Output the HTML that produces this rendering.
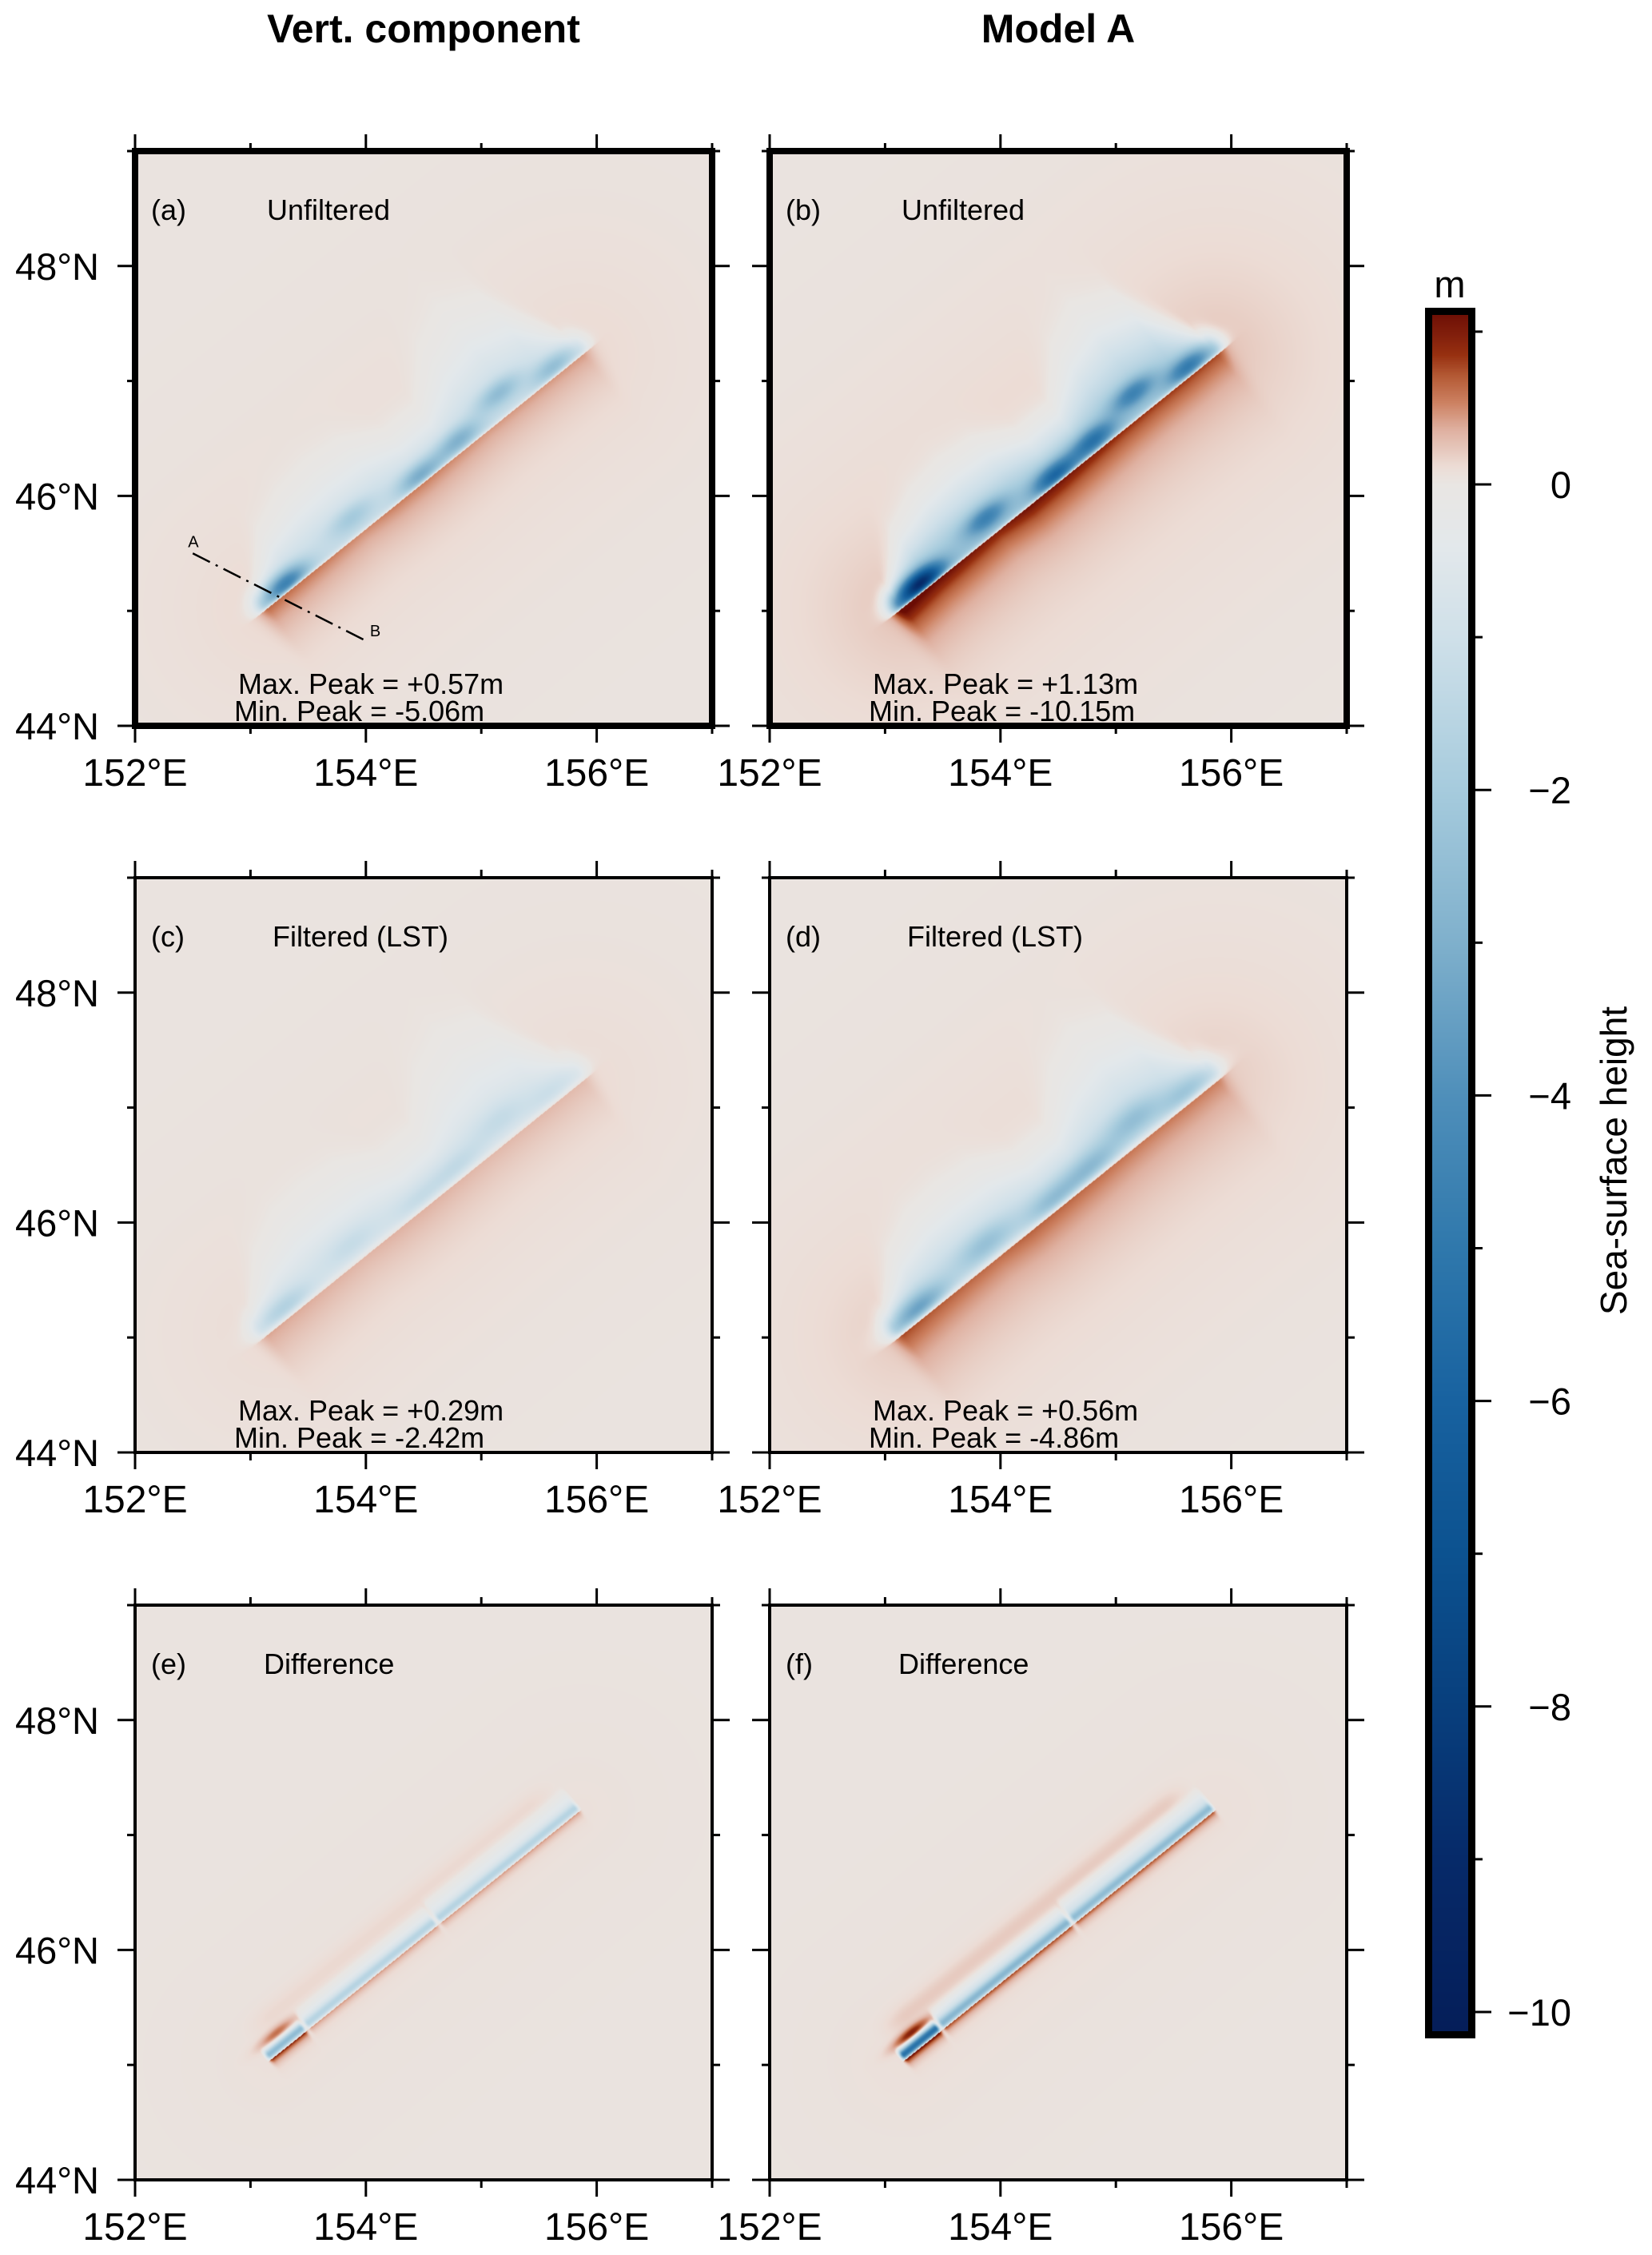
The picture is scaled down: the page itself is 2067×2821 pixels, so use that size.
<!DOCTYPE html>
<html><head><meta charset="utf-8">
<style>
html,body{margin:0;padding:0;background:#fff;}
#wrap{position:relative;width:2067px;height:2821px;overflow:hidden;background:#fff;font-family:"Liberation Sans",sans-serif;}
canvas{position:absolute;}
svg{position:absolute;left:0;top:0;}
</style></head>
<body>
<div id="wrap">
<canvas id="cv-a" width="722" height="719" style="left:169px;top:189px"></canvas>
<canvas id="cv-b" width="722" height="719" style="left:963px;top:189px"></canvas>
<canvas id="cv-c" width="722" height="719" style="left:169px;top:1098px"></canvas>
<canvas id="cv-d" width="722" height="719" style="left:963px;top:1098px"></canvas>
<canvas id="cv-e" width="722" height="719" style="left:169px;top:2008px"></canvas>
<canvas id="cv-f" width="722" height="719" style="left:963px;top:2008px"></canvas>
<canvas id="cv-cb" width="45" height="2147" style="left:1792px;top:394px"></canvas>
<svg id="ov" width="2067" height="2821">
<text x="530" y="53" font-size="50" font-weight="bold" text-anchor="middle" font-family="Liberation Sans, sans-serif">Vert. component</text>
<text x="1324" y="53" font-size="50" font-weight="bold" text-anchor="middle" font-family="Liberation Sans, sans-serif">Model A</text>
<text x="1814" y="372" font-size="47" text-anchor="middle" font-family="Liberation Sans, sans-serif">m</text>
<text transform="translate(2035,1452) rotate(-90)" font-size="46" text-anchor="middle" font-family="Liberation Sans, sans-serif">Sea-surface height</text>
</svg>
</div>
<script>
// ---- data ----
const lonTicks=[152,153,154,155,156,157];
const latTicks=[44,45,46,47,48,49];
const lonLabels=['152°E','','154°E','','156°E',''];
const latLabels=['44°N','','46°N','','48°N',''];
const cbTickVals=[1,0,-1,-2,-3,-4,-5,-6,-7,-8,-9,-10];
const cbTickLabels=['','0','','−2','','−4','','−6','','−8','','−10'];
const panelIds=['a','b','c','d','e','f'];
const panelTitles=['Unfiltered','Unfiltered','Filtered (LST)','Filtered (LST)','Difference','Difference'];
const maxPeaks=['+0.57m','+1.13m','+0.29m','+0.56m','',''];
const minPeaks=['-5.06m','-10.15m','-2.42m','-4.86m','',''];
const faultLon=[153.16,155.87];
const faultLat=[45.03,47.22];
const profileLon=[152.5,153.98];
const profileLat=[45.5,44.75];
const sNodes=[0,0.1,0.2,0.3,0.4,0.5,0.6,0.7,0.8,0.9,1];
const bandA=[1.6,1.5,1.35,1.3,1.3,1.3,1.35,1.3,1.3,1.2,1.0];
const bandB=[3.4,2.9,2.6,2.5,2.5,2.6,2.7,2.5,2.4,2.3,2.0];
const bandC=[1.1,1.05,1.0,0.95,0.95,0.95,1.0,0.95,0.95,0.9,0.8];
const bandD=[2.1,1.9,1.7,1.6,1.6,1.7,1.8,1.6,1.6,1.5,1.3];
const widthU=[0.14,0.36,0.45,0.48,0.46,0.36,0.36,0.56,0.65,0.58,0.18];
const widthF=[0.18,0.4,0.5,0.52,0.5,0.4,0.4,0.6,0.68,0.62,0.22];
const redA=[0.5,0.45,0.4,0.35,0.4,0.4,0.35,0.3,0.3,0.3,0.3];
const redB=[1.1,0.9,0.8,0.7,0.85,0.8,0.7,0.6,0.55,0.55,0.5];
const redC=[0.27,0.25,0.22,0.2,0.22,0.22,0.2,0.18,0.18,0.18,0.17];
const redD=[0.55,0.48,0.43,0.4,0.45,0.43,0.4,0.36,0.34,0.34,0.32];
const blobS=[0.07,0.3,0.5,0.63,0.78,0.93];
const blobD=[0.07,0.16,0.07,0.1,0.2,0.08];
const blobA=[3.3,1.0,2.0,1.8,1.5,1.5];
const blobB=[6.5,2.6,3.6,3.0,2.6,3.0];
const blobC=[1.1,0.5,0.6,0.6,0.5,0.5];
const blobDD=[2.4,1.2,1.5,1.4,1.2,1.3];
const haloAmp=[0.12,0.25,0.1,0.2,0.04,0.05];
const segS0=[0,0.125,0.545];
const segS1=[0.125,0.545,1];
const stripE=[2.2,1.1,1.1];
const stripF=[4.5,1.9,1.8];
const blockE=[0.5,0.6,0.6];
const blockF=[1.0,1.0,0.9];
const blockW=[0.1,0.17,0.2];
const segRedE=[0.95,0.4,0.4];
const segRedF=[1.15,0.75,0.7];
const cmapVals=[-10.2,-9,-8,-7,-6,-5,-4,-3,-2,-1,-0.4,0,0.12,0.36,0.54,0.71,0.85,0.97,1.15];
const cmapCols=['#051d58','#062a69','#083f7d','#0c5290','#1862a0','#2f78ac','#4f8fba','#7fb0cc','#a6cbdd','#cfe0e9','#e3e8eb','#e9e6e3','#ecdcd5','#dfb0a0','#cc8060','#b45a35','#973010','#83200c','#6a0c04'];

// ---- geometry ----
const colX=[169,963], rowY=[189,1098,2008], PW=722, PH=719;
const DEGX=144.4, DEGY=143.8;
function xOf(col,lon){return colX[col]+(lon-152)*DEGX;}
function yOf(row,lat){return rowY[row]+(49-lat)*DEGY;}
const cbX0=1783,cbX1=1846,cbY0=385,cbY1=2550;
function cbY(v){return 606-v*191.1;}

const cmRGB=cmapCols.map(h=>[parseInt(h.substr(1,2),16),parseInt(h.substr(3,2),16),parseInt(h.substr(5,2),16)]);
function cmap(v){
  if(v<=cmapVals[0])return cmRGB[0];
  const n=cmapVals.length;
  if(v>=cmapVals[n-1])return cmRGB[n-1];
  for(let i=0;i<n-1;i++){
    if(v<=cmapVals[i+1]){const t=(v-cmapVals[i])/(cmapVals[i+1]-cmapVals[i]);const a=cmRGB[i],b=cmRGB[i+1];
      return [a[0]+(b[0]-a[0])*t,a[1]+(b[1]-a[1])*t,a[2]+(b[2]-a[2])*t];}
  }
}
function interp(arr,s){s=Math.max(0,Math.min(1,s));const f=s*10;const i=Math.min(9,Math.floor(f));const t=f-i;return arr[i]+(arr[i+1]-arr[i])*t;}
function sm(e0,e1,x){let t=(x-e0)/(e1-e0);t=Math.max(0,Math.min(1,t));return t*t*(3-2*t);}

const fdx=faultLon[1]-faultLon[0], fdy=faultLat[1]-faultLat[0];
const FL=Math.sqrt(fdx*fdx+fdy*fdy), ux=fdx/FL, uy=fdy/FL;

const fullBand=[bandA,bandB,bandC,bandD];
const fullWidth=[widthU,widthU,widthF,widthF];
const fullRed=[redA,redB,redC,redD];
const fullBlob=[blobA,blobB,blobC,blobDD];

function field(k,lon,lat){
  const rx=lon-faultLon[0], ry=lat-faultLat[0];
  const sd=rx*ux+ry*uy, d=-rx*uy+ry*ux, s=sd/FL;
  const ds=s<0?-s*FL:(s>1?(s-1)*FL:0);
  const dist=Math.sqrt(ds*ds+d*d);
  let v=0.03+haloAmp[k]*Math.exp(-dist/0.9);
  const te=Math.exp(-Math.pow(ds/0.1,2));
  if(k<4){
    const filt=k>=2;
    const e0=filt?0.045:0.016;
    const edge=d>0?(1-Math.exp(-d/e0)):0;
    const W=interp(fullWidth[k],s), amp=interp(fullBand[k],s);
    v-=amp*edge*Math.exp(-Math.pow(d/W,2))*te;
    const ba=fullBlob[k];
    const bs=filt?0.2:0.16, bd=filt?0.09:0.07;
    for(let i=0;i<blobS.length;i++){
      const a=(s-blobS[i])*FL, b=d-blobD[i];
      v-=ba[i]*edge*Math.exp(-(a*a)/(2*bs*bs)-(b*b)/(2*bd*bd));
    }
    if(d<=0){
      const rw=filt?0.26:0.2;
      v+=interp(fullRed[k],s)*Math.exp(d/rw)*te;
    }
  } else {
    const fe=k===5;
    const strip=fe?stripF:stripE, block=fe?blockF:blockE, sred=fe?segRedF:segRedE;
    const edge=d>0?(1-Math.exp(-d/0.012)):0;
    for(let j=0;j<segS0.length;j++){
      const w=sm(segS0[j]-0.004,segS0[j]+0.012,s)*(1-sm(segS1[j]-0.012,segS1[j]+0.002,s));
      if(w<=0)continue;
      if(d>0){
        v-=w*edge*(strip[j]*Math.exp(-Math.pow((d-0.045)/0.045,2))+block[j]*Math.exp(-Math.pow(d/blockW[j],4)));
      } else {
        v+=w*sred[j]*Math.exp(d/0.04);
      }
    }
    const wall=sm(-0.02,0.08,s)*(1-sm(0.9,1.0,s));
    v+=(fe?0.15:0.08)*wall*Math.exp(-Math.pow((d-0.3)/0.1,2));
    const ca=(s-0.06)*FL, cb=d-0.15;
    v+=(fe?0.9:0.55)*Math.exp(-(ca*ca)/(2*0.14*0.14)-(cb*cb)/(2*0.035*0.035));
  }
  return v;
}

for(let k=0;k<6;k++){
  const cv=document.getElementById('cv-'+panelIds[k]);
  const ctx=cv.getContext('2d');
  const img=ctx.createImageData(PW,PH);
  const D=img.data;
  for(let py=0;py<PH;py++){
    const lat=49-(py+0.5)/DEGY;
    for(let px=0;px<PW;px++){
      const lon=152+(px+0.5)/DEGX;
      const c=cmap(field(k,lon,lat));
      const o=(py*PW+px)*4;
      D[o]=c[0];D[o+1]=c[1];D[o+2]=c[2];D[o+3]=255;
    }
  }
  ctx.putImageData(img,0,0);
}
(function(){
  const cv=document.getElementById('cv-cb');const ctx=cv.getContext('2d');
  for(let y=0;y<cv.height;y++){
    const v=(606-(394+y+0.5))/191.1;
    const c=cmap(v);
    ctx.fillStyle='rgb('+Math.round(c[0])+','+Math.round(c[1])+','+Math.round(c[2])+')';
    ctx.fillRect(0,y,cv.width,1);
  }
})();

const NS='http://www.w3.org/2000/svg';
const svg=document.getElementById('ov');
function mk(tag,attrs){const e=document.createElementNS(NS,tag);for(const a in attrs)e.setAttribute(a,attrs[a]);svg.appendChild(e);return e;}

for(let k=0;k<6;k++){
  const col=k%2,row=Math.floor(k/2);
  const x0=colX[col],y0=rowY[row],x1=x0+PW,y1=y0+PH;
  const fw=row===0?8:4;
  const fr=mk('rect',{x:x0,y:y0,width:PW,height:PH,fill:'none',stroke:'#000','stroke-width':fw});
  
  
  for(let i=0;i<lonTicks.length;i++){
    const x=xOf(col,lonTicks[i]);const len=lonTicks[i]%2===0?21:10;
    const tb=mk('line',{x1:x,y1:y1,x2:x,y2:y1+len,stroke:'#000','stroke-width':3});
    
    
    const tt=mk('line',{x1:x,y1:y0,x2:x,y2:y0-len,stroke:'#000','stroke-width':3});
    
    
    if(lonLabels[i]){
      const t=mk('text',{x:x,y:y1+75,'font-size':48,'text-anchor':'middle','font-family':'Liberation Sans, sans-serif'});
      t.textContent=lonLabels[i];
      
      
    }
  }
  for(let i=0;i<latTicks.length;i++){
    const y=yOf(row,latTicks[i]);const len=latTicks[i]%2===0?22:10;
    const tl=mk('line',{x1:x0,y1:y,x2:x0-len,y2:y,stroke:'#000','stroke-width':3});
    
    
    const tr=mk('line',{x1:x1,y1:y,x2:x1+len,y2:y,stroke:'#000','stroke-width':3});
    
    
    if(latLabels[i] && col===0){
      const t=mk('text',{x:x0-45,y:y+17,'font-size':47,'text-anchor':'end','font-family':'Liberation Sans, sans-serif'});
      t.textContent=latLabels[i];
      
      
    }
  }
  const pl=mk('text',{x:x0+20,y:y0+86,'font-size':36,'font-family':'Liberation Sans, sans-serif'});
  pl.textContent='('+panelIds[k]+')';
  
  
  const tx=k>=4?161:(k>=2?172:165);
  const pt=mk('text',{x:x0+tx,y:y0+86,'font-size':36,'font-family':'Liberation Sans, sans-serif'});
  pt.textContent=panelTitles[k];
  
  
  if(maxPeaks[k]){
    const mx=mk('text',{x:x0+129,y:y0+679,'font-size':36,'font-family':'Liberation Sans, sans-serif'});
    mx.textContent='Max. Peak = '+maxPeaks[k];
    
    
    const mn=mk('text',{x:x0+124,y:y0+713,'font-size':36,'font-family':'Liberation Sans, sans-serif'});
    mn.textContent='Min. Peak = '+minPeaks[k];
    
    
  }
}
const pa=mk('line',{x1:xOf(0,profileLon[0]),y1:yOf(0,profileLat[0]),x2:xOf(0,profileLon[1]),y2:yOf(0,profileLat[1]),stroke:'#000','stroke-width':2.5,'stroke-dasharray':'24 8 3 8'});


const la=mk('text',{x:xOf(0,profileLon[0])-6,y:yOf(0,profileLat[0])-8,'font-size':20,'font-family':'Liberation Sans, sans-serif'});
la.textContent='A';


const lb=mk('text',{x:xOf(0,profileLon[1])+8,y:yOf(0,profileLat[1])-4,'font-size':20,'font-family':'Liberation Sans, sans-serif'});
lb.textContent='B';



const cbf=mk('rect',{x:cbX0+4.5,y:cbY0+4.5,width:cbX1-cbX0-9,height:cbY1-cbY0-9,fill:'none',stroke:'#000','stroke-width':9});


for(let i=0;i<cbTickVals.length;i++){
  const y=cbY(cbTickVals[i]);const major=cbTickLabels[i]!=='';
  const t=mk('line',{x1:cbX1,y1:y,x2:cbX1+(major?20:9),y2:y,stroke:'#000','stroke-width':3});
  
  
  if(major){
    const l=mk('text',{x:1966,y:y+17,'font-size':47,'text-anchor':'end','font-family':'Liberation Sans, sans-serif'});
    l.textContent=cbTickLabels[i];
    
    
  }
}
</script>
</body></html>
